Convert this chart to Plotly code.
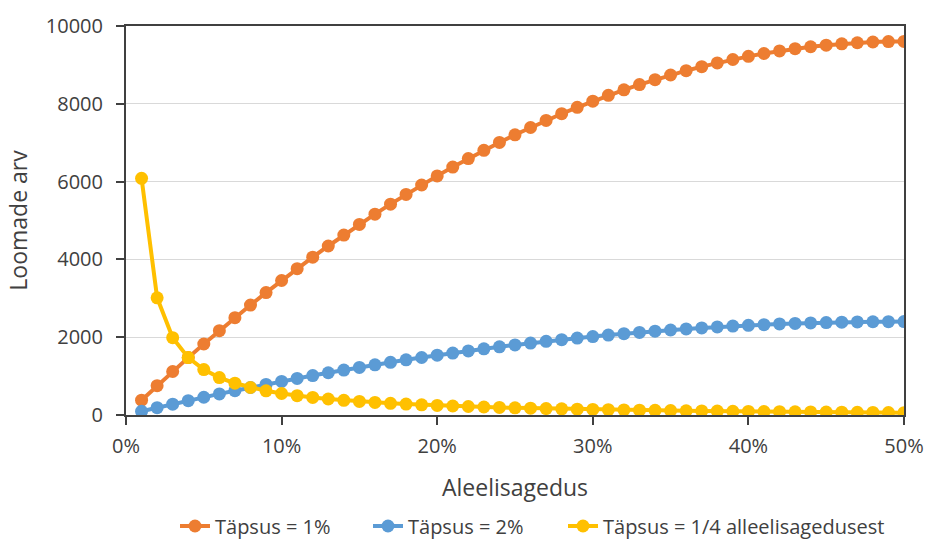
import plotly.graph_objects as go

# Allele frequency, 1% .. 50%
allele_freq = [i / 100 for i in range(1, 51)]

# Required number of animals for each precision setting
n_precision_1 = [380, 753, 1118, 1475, 1825, 2167, 2501, 2827, 3146, 3457,
                 3761, 4057, 4345, 4625, 4898, 5163, 5420, 5670, 5912, 6147,
                 6373, 6592, 6804, 7007, 7203, 7391, 7572, 7745, 7910, 8067,
                 8217, 8359, 8494, 8621, 8740, 8851, 8955, 9051, 9139, 9220,
                 9293, 9358, 9416, 9466, 9508, 9543, 9569, 9589, 9600, 9604]

n_precision_2 = [95, 188, 279, 369, 456, 542, 625, 707, 787, 864,
                 940, 1014, 1086, 1156, 1224, 1291, 1355, 1418, 1478, 1537,
                 1593, 1648, 1701, 1752, 1801, 1848, 1893, 1936, 1977, 2017,
                 2054, 2090, 2123, 2155, 2185, 2213, 2239, 2263, 2285, 2305,
                 2323, 2340, 2354, 2366, 2377, 2386, 2392, 2397, 2400, 2401]

n_precision_quarter = [6085, 3012, 1987, 1475, 1168, 963, 817, 707, 621, 553,
                       497, 451, 411, 378, 348, 323, 300, 280, 262, 246,
                       231, 218, 206, 195, 184, 175, 166, 158, 150, 143,
                       137, 131, 125, 119, 114, 109, 105, 100, 96, 92,
                       88, 85, 81, 78, 75, 72, 69, 67, 64, 61]

series = [
    ("Täpsus = 1%", n_precision_1, "#ED7D31"),
    ("Täpsus = 2%", n_precision_2, "#5B9BD5"),
    ("Täpsus = 1/4 alleelisagedusest", n_precision_quarter, "#FFC000"),
]

FONT = "Open Sans"
TXT = "#404040"
AXIS = "#404040"
W, H = 927, 541

# one legend box per series so each entry can sit at its own spot
legend_ids = ["legend", "legend2", "legend3"]
legend_left_px = [175, 368, 563]

fig = go.Figure()
for (name, vals, color), lg in zip(series, legend_ids):
    fig.add_trace(go.Scatter(
        x=allele_freq, y=vals, name=name, mode="lines+markers",
        line=dict(color=color, width=4),
        marker=dict(color=color, size=13, symbol="circle"),
        legend=lg,
    ))

legend_common = dict(
    orientation="h", xref="container", yref="container", xanchor="left",
    y=(H - 526) / H, yanchor="middle",
    font=dict(family=FONT, size=20, color=TXT), bgcolor="rgba(0,0,0,0)",
)

fig.update_layout(
    width=W, height=H,
    margin=dict(l=126, r=23, t=26, b=126, autoexpand=False),
    paper_bgcolor="white", plot_bgcolor="white",
    font=dict(family=FONT, size=20, color=TXT),
    showlegend=True,
    legend=dict(x=legend_left_px[0] / W, **legend_common),
    legend2=dict(x=legend_left_px[1] / W, **legend_common),
    legend3=dict(x=legend_left_px[2] / W, **legend_common),
)

fig.update_xaxes(
    range=[0, 0.5], tickvals=[0, 0.1, 0.2, 0.3, 0.4, 0.5], tickformat=".0%",
    showgrid=False, zeroline=False, automargin=False,
    showline=True, linecolor=AXIS, linewidth=2, mirror=True,
    ticks="outside", ticklen=8, tickcolor=AXIS, tickwidth=2,
    ticklabelstandoff=4,
    tickfont=dict(family=FONT, size=20, color=TXT),
    title=dict(text="Aleelisagedus", font=dict(family=FONT, size=23, color=TXT), standoff=22),
)

fig.update_yaxes(
    range=[0, 10000], tickvals=[0, 2000, 4000, 6000, 8000, 10000], tickformat="d",
    showgrid=True, gridcolor="#D9D9D9", gridwidth=1, zeroline=False, automargin=False,
    showline=True, linecolor=AXIS, linewidth=2, mirror=True,
    ticks="outside", ticklen=8, tickcolor=AXIS, tickwidth=2,
    ticklabelstandoff=9,
    tickfont=dict(family=FONT, size=20, color=TXT),
    title=dict(text="Loomade arv", font=dict(family=FONT, size=23, color=TXT), standoff=12),
)

fig.write_html("out.html")
